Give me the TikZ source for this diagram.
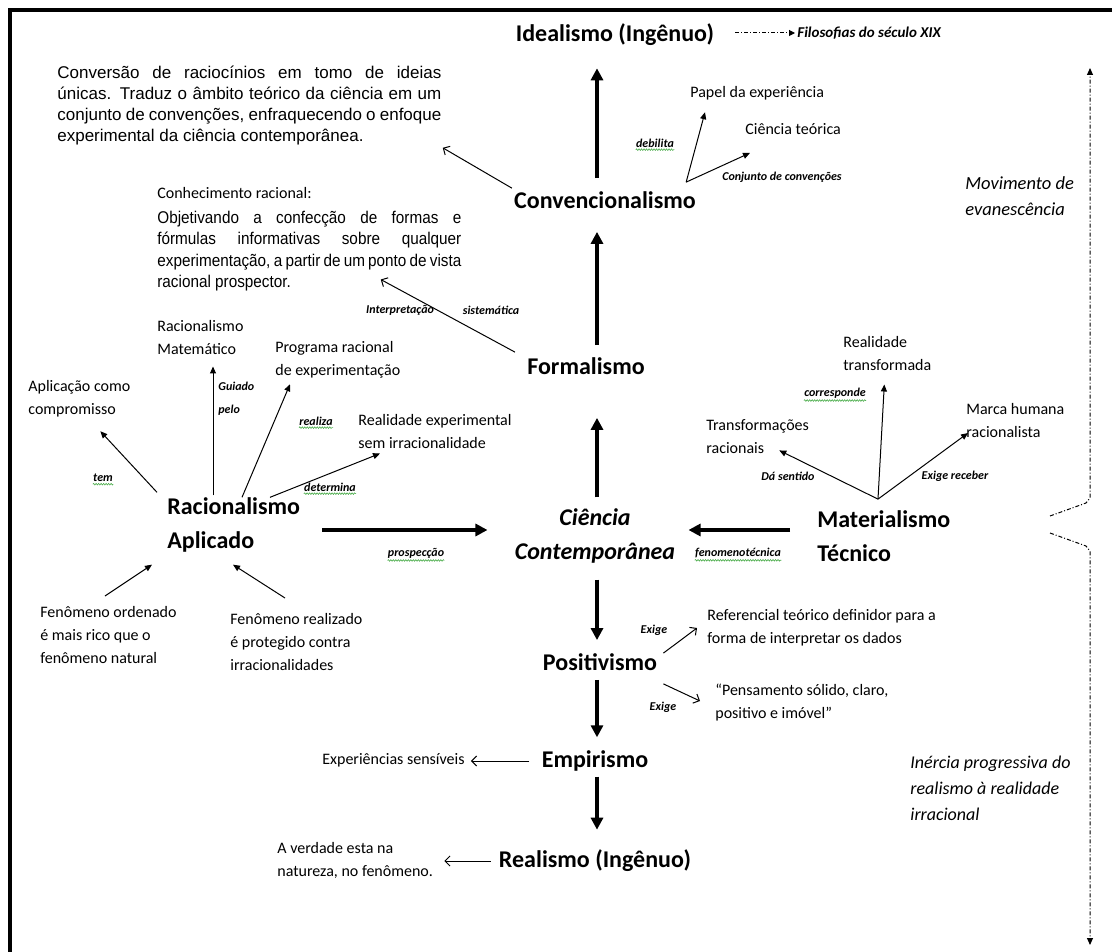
\documentclass[tikz,border=0pt]{standalone}
\usepackage{fontspec}
\setmainfont{Carlito}
\newfontfamily\arialfont{Liberation Sans}
\newfontfamily\arialnarrow[FakeStretch=0.9]{Liberation Sans}
\usetikzlibrary{arrows.meta,calc,decorations.pathmorphing}
\definecolor{spellgreen}{RGB}{70,170,70}
\tikzset{every picture/.style={line width=0.75pt}}

\begin{document}
\begin{tikzpicture}[x=1pt,y=1pt,yscale=-1,xscale=1,
  mainnode/.style={inner sep=0pt,font=\fontsize{24}{34}\selectfont\bfseries},
  textnode/.style={inner sep=0pt,anchor=west,align=left,font=\fontsize{16}{23}\selectfont},
  labelnode/.style={inner sep=0pt,font=\fontsize{12}{23}\selectfont\bfseries\itshape},
  bignote/.style={inner sep=0pt,anchor=west,align=left,font=\fontsize{18.5}{26.5}\selectfont\itshape},
  parabox/.style={inner sep=0pt,anchor=north west,align=justify},
  mainarrow/.style={line width=3.5pt,-{Triangle[length=12pt,width=12pt]}},
  thinarrow/.style={line width=1pt,-{Triangle[length=7pt,width=6pt]}},
  openarrow/.style={line width=1pt,-{Straight Barb[length=5pt,width=10pt]}},
  dashdot/.style={line width=1pt,dash pattern=on 4pt off 2pt on 1pt off 2pt},
  spellmark/.style={spellgreen,line width=0.6pt,decorate,decoration={snake,amplitude=0.8pt,segment length=2.5pt}}
]
\useasboundingbox (0,0) rectangle (1112,952);

%Shape: Frame
\draw [line width=4pt] (10.3,952) -- (10.3,10.3) -- (1112,10.3) ;

% Text Node
\node[mainnode] (idealismo) at (615,35) {Idealismo (Ingênuo)};
\node[mainnode] (convenc) at (605,200) {Convencionalismo};
\node[mainnode] (formal) at (586,366) {Formalismo};
\node[mainnode,align=center,font=\fontsize{24}{34}\selectfont\bfseries\itshape] (ciencia) at (595,536) {Ciência\\Contemporânea};
\node[mainnode,anchor=west,align=left] (racapl) at (167,525) {Racionalismo\\Aplicado};
\node[mainnode,anchor=west,align=left] (mattec) at (817,536) {Materialismo\\Técnico};
\node[mainnode] (positiv) at (600,662) {Positivismo};
\node[mainnode] (empir) at (595,761) {Empirismo};
\node[mainnode] (realismo) at (595,861) {Realismo (Ingênuo)};

% Text Node
\node[labelnode,anchor=west,font=\fontsize{15}{18}\selectfont\bfseries\itshape] (filos) at (797,33) {Filosofias do século XIX};
\node[bignote] (movim) at (965,196) {Movimento de\\evanescência};
\node[bignote,font=\fontsize{18}{26}\selectfont\itshape] (inercia) at (910,788) {Inércia progressiva do\\realismo à realidade\\irracional};

% Text Node
\node[parabox,text width=384pt,font=\arialfont\fontsize{17}{21}\selectfont] (convpar) at (57,66) {Conversão de raciocínios em tomo de ideias\linebreak únicas. Traduz o âmbito teórico da ciência em um\linebreak conjunto de convenções, enfraquecendo o enfoque\linebreak experimental da ciência contemporânea.};
\node[textnode] (conhec) at (157,193) {Conhecimento racional:};
\node[parabox,text width=304pt,font=\arialnarrow\fontsize{17}{21.3}\selectfont] (objpar) at (157,211) {Objetivando a confecção de formas e\linebreak fórmulas informativas sobre qualquer\linebreak experimentação, a partir de um ponto de vista\linebreak racional prospector.};

% Text Node
\node[textnode] (papel) at (690,93) {Papel da experiência};
\node[textnode] (cteor) at (745,129) {Ciência teórica};
\node[textnode] (racmat) at (157,338) {Racionalismo\\Matemático};
\node[textnode] (programa) at (275,360) {Programa racional\\de experimentação};
\node[textnode] (aplic) at (28,399) {Aplicação como\\compromisso};
\node[textnode] (realexp) at (358,432) {Realidade experimental\\sem irracionalidade};
\node[textnode] (fenord) at (40,635) {Fenômeno ordenado\\é mais rico que o\\fenômeno natural};
\node[textnode] (fenreal) at (230,642) {Fenômeno realizado\\é protegido contra\\irracionalidades};
\node[textnode] (realtr) at (843,354) {Realidade\\transformada};
\node[textnode] (transf) at (706,437) {Transformações\\racionais};
\node[textnode] (marca) at (966,421) {Marca humana\\racionalista};
\node[textnode] (refer) at (707,628) {Referencial teórico definidor para a\\forma de interpretar os dados};
\node[textnode] (pensam) at (715,703) {“Pensamento sólido, claro,\\positivo e imóvel”};
\node[textnode] (expsens) at (322,760) {Experiências sensíveis};
\node[textnode] (verdade) at (277,860) {A verdade esta na\\natureza, no fenômeno.};

% Text Node
\node[labelnode] (debilita) at (655,143) {debilita};
\node[labelnode] (conjconv) at (782,177) {Conjunto de convenções};
\node[labelnode] (interp) at (400,310) {Interpretação};
\node[labelnode] (sistem) at (491,310) {sistemática};
\node[labelnode,anchor=west,align=left] (guiado) at (218,399) {Guiado\\pelo};
\node[labelnode] (realiza) at (316,421) {realiza};
\node[labelnode] (determina) at (330,487) {determina};
\node[labelnode] (tem) at (103,478) {tem};
\node[labelnode] (prosp) at (416,553) {prospecção};
\node[labelnode] (fenomen) at (738,553) {fenomenotécnica};
\node[labelnode] (corresp) at (835,393) {corresponde};
\node[labelnode] (dasent) at (788,476) {Dá sentido};
\node[labelnode] (exigrec) at (955,476) {Exige receber};
\node[labelnode] (exige1) at (654,630) {Exige};
\node[labelnode] (exige2) at (663,707) {Exige};

\coordinate (ax) at (597,0);
\coordinate (ay) at (0,530);
\coordinate (convfork) at ($(convenc.north east)+(-10,-9)$);
\coordinate (matfork) at ($(mattec.north west)+(61,-11)$);
\coordinate (guide) at ($(racapl.north west)+(46,-2)$);

%Straight Lines (main column)
\draw[mainarrow,shorten <=13pt,shorten >=22pt] (convenc.north -| ax) -- (idealismo.south -| ax);
\draw[mainarrow,shorten <=12pt,shorten >=23pt] (formal.north -| ax) -- (convenc.south -| ax);
\draw[mainarrow,shorten <=11pt,shorten >=43pt] (ciencia.north -| ax) -- (formal.south -| ax);
\draw[mainarrow,shorten <=16pt,shorten >=13pt] (ciencia.south -| ax) -- (positiv.north -| ax);
\draw[mainarrow,shorten <=9pt,shorten >=13pt] (positiv.south -| ax) -- (empir.north -| ax);
\draw[mainarrow,shorten <=5pt,shorten >=20pt] (empir.south -| ax) -- (realismo.north -| ax);
\draw[mainarrow,line width=4.5pt,shorten <=22pt,shorten >=27pt] (racapl.east |- ay) -- (ciencia.west |- ay);
\draw[mainarrow,line width=4.5pt,shorten <=27pt,shorten >=13pt] (mattec.west |- ay) -- (ciencia.east |- ay);

%Straight Lines (Convencionalismo)
\draw[dashdot,-{Triangle[length=6pt,width=6pt]},shorten <=21pt,shorten >=2pt] (idealismo.east |- filos.west) -- (filos.west);
\draw[openarrow] ($(convenc.north west)+(-2,-3)$) -- ($(convpar.south east)+(1,2)$);
\draw[thinarrow] (convfork) -- ($(papel.south west)+(15,12)$);
\draw[thinarrow] (convfork) -- ($(cteor.south west)+(5,18)$);
\draw[openarrow] ($(formal.north west)+(-12,-5)$) -- ($(objpar.south east)+(-81,-12)$);

%Straight Lines (Racionalismo Aplicado)
\draw[thinarrow] ($(racapl.north west)+(-10,-5)$) -- ($(aplic.south)+(21,13.5)$);
\draw[thinarrow,shorten >=11pt] (guide) -- (guide |- racmat.south);
\draw[thinarrow] ($(racapl.north west)+(75,0)$) -- ($(programa.south west)+(15,5.5)$);
\draw[thinarrow] ($(racapl.north west)+(103,0)$) -- ($(realexp.south west)+(22,4)$);
\draw[thinarrow] ($(fenord.north west)+(65,-10)$) -- ($(racapl.south west)+(-15,12)$);
\draw[thinarrow] ($(fenreal.north west)+(55,-15)$) -- ($(racapl.south west)+(66,12)$);

%Straight Lines (Materialismo Tecnico)
\draw[thinarrow] (matfork) -- ($(transf.south east)+(-30,-4)$);
\draw[thinarrow] (matfork) -- ($(realtr.south)+(-3,13)$);
\draw[thinarrow] (matfork) -- ($(marca.west)+(2,12)$);

%Straight Lines (Positivismo, Empirismo, Realismo)
\draw[openarrow] ($(positiv.north east)+(6,0)$) -- ($(refer.west)+(-10,0)$);
\draw[openarrow] ($(positiv.south east)+(6,13)$) -- ($(pensam.west)+(-15,-2)$);
\draw[openarrow,shorten <=12pt,shorten >=6pt] (empir.west) -- (empir.west -| expsens.east);
\draw[openarrow,shorten <=8pt,shorten >=11pt] (realismo.west) -- (realismo.west -| verdade.east);

%Shape: side line
\draw[dashdot,-{Triangle[length=7pt,width=6pt]}] (1050,516) -- (1086,503) -- (1090,498) -- (1090,68);
\draw[dashdot,-{Triangle[length=7pt,width=6pt]}] (1050,533) -- (1086,546) -- (1090,551) -- (1090,945);

% spelling marks
\foreach \n in {debilita,realiza,determina,tem,prosp,fenomen,corresp}
  \draw[spellmark] ($(\n.south west)+(0,2)$) -- ($(\n.south east)+(0,2)$);

\end{tikzpicture}
\end{document}
